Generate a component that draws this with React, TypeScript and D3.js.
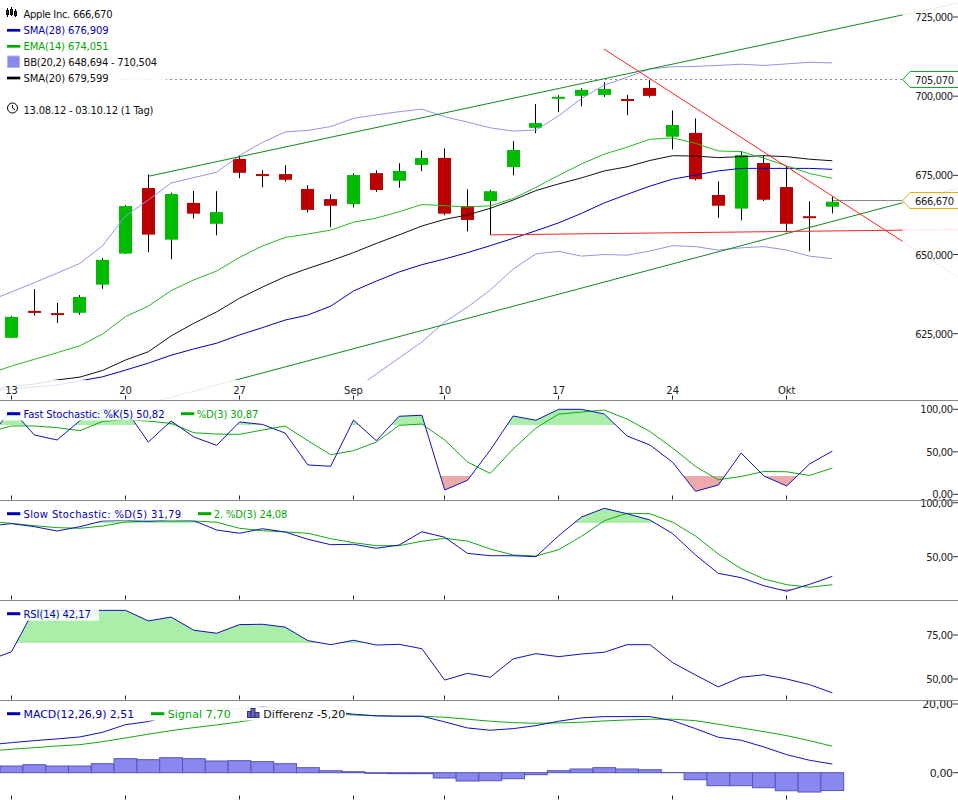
import React from "react";
import * as d3 from "d3";

// ---------- data ----------
const title = "Apple Inc. 666,670";
const xTickIndex = [0, 5, 10, 15, 19, 24, 29, 34];
const xTickLabels = ["13", "20", "27", "Sep", "10", "17", "24", "Okt"];
const priceTicks = [725, 700, 675, 650, 625];

// candles, Aug 13 .. Oct 3
const opens = [623.7, 632.2, 631.5, 631.6, 640.5, 650.3, 671.0, 654.7, 666.3, 659.7, 680.2, 675.4, 675.4, 670.7, 667.5, 665.9, 675.7, 673.3, 678.3, 680.5, 665.3, 666.9, 677.6, 690.0, 699.5, 700.1, 700.4, 699.1, 702.6, 687.2, 688.4, 668.8, 664.5, 678.9, 671.3, 662.1, 665.1];
const highs = [630.6, 639.1, 634.7, 637.2, 648.9, 665.6, 675.3, 669.5, 670.1, 670.0, 681.3, 676.6, 678.2, 671.9, 669.0, 675.6, 676.6, 678.8, 682.9, 683.5, 670.6, 670.4, 685.8, 697.5, 700.3, 702.5, 704.4, 700.4, 705.07, 695.5, 693.0, 673.1, 682.7, 681.4, 677.7, 666.8, 668.3];
const lows = [623.6, 630.7, 628.4, 631.0, 639.2, 650.2, 650.7, 648.5, 661.4, 656.1, 674.1, 671.2, 673.0, 663.3, 658.6, 664.9, 669.8, 671.1, 676.3, 662.4, 657.3, 656.2, 675.0, 688.3, 694.9, 696.8, 699.8, 694.0, 699.6, 683.2, 673.4, 661.6, 660.8, 666.9, 657.0, 651.0, 663.0];
const closes = [630.3, 631.9, 631.2, 636.6, 648.3, 665.3, 656.3, 669.1, 662.9, 663.4, 675.8, 675.0, 673.6, 664.1, 665.4, 675.1, 670.4, 676.4, 680.5, 662.9, 660.9, 670.0, 683.0, 691.5, 699.8, 702.0, 702.3, 698.8, 700.1, 690.9, 673.8, 665.4, 681.4, 667.3, 659.7, 661.6, 666.67];

// overlays: first value is the session before the first candle
const bbUpper = [635.3, 638.2, 641.1, 644.1, 647.2, 652.8, 662.2, 667.2, 672.6, 674.3, 676, 681.3, 685.4, 688.7, 689.2, 690.4, 693, 694.1, 695.1, 695.9, 693.5, 691.8, 690, 689, 689.3, 693.8, 699.3, 703.5, 706, 708.6, 709.3, 709.4, 709.7, 710.1, 709.7, 710.2, 710.7, 710.5];
const bbLowerStart = 14;
const bbLower = [602.5, 607.2, 612.3, 617.3, 622.4, 628.7, 633.4, 638.8, 645.4, 650.2, 651, 649.5, 650, 649.8, 651.1, 652.8, 652.5, 651.4, 652.1, 652.5, 651.4, 649.5, 648.7];
const sma28 = [606.9, 607.5, 608.2, 608.8, 610.1, 611.4, 613.5, 615.7, 618.2, 620.2, 622, 624.6, 626.9, 629.3, 630.9, 633.7, 638.5, 641.6, 644.5, 646.8, 648.6, 650.6, 652.8, 655.1, 657.5, 660, 663, 666.3, 669, 671.6, 673.8, 675.1, 676.4, 677.2, 677.2, 677.2, 677.2, 676.9];
const sma20 = [607.5, 608.2, 609.1, 610.4, 611.3, 613.4, 616.7, 619.3, 624.3, 628.3, 631.9, 636.2, 639.7, 643, 645.6, 648, 650.6, 653.5, 656.2, 659, 661.1, 662.5, 664.6, 667.2, 670.2, 672.3, 674.2, 676.4, 677.7, 679.7, 681.2, 681.1, 680.6, 680.9, 681.2, 680.9, 680.1, 679.6];
const ema14 = [612.3, 614.8, 616.9, 619, 621.2, 624.9, 630.4, 633.7, 638.6, 642, 644.8, 649.1, 652.7, 655.4, 656.5, 657.7, 660.2, 661.5, 663.5, 665.8, 665.4, 665, 665.4, 667.7, 671.2, 675, 678.6, 681.7, 683.9, 686.4, 686.8, 685.1, 682.7, 682.5, 680.4, 678, 675.6, 674.05];

// trend lines as [session index, price]
const trendGreenUp = [[6, 674.7], [41.51, 729.4]];
const trendGreenLow = [[6.51, 604.0], [41.51, 671.0]];
const trendRedDown = [[25.98, 714.9], [41.51, 642.9]];
const trendRedFlat = [[21, 656.2], [41.51, 657.9]];
const dottedPrice = 705.07;
const lastPrice = 666.67;

// fast stochastic
const fastK = [66, 100, 69.8, 63.9, 86.7, 100, 100, 61.5, 86.2, 67.4, 57.6, 85.1, 82.2, 72.1, 34.5, 33, 87.4, 63.1, 91.8, 93, 5.1, 16.5, 52.1, 92.1, 87.1, 100, 100, 94.5, 68.6, 58, 37.6, 3.5, 10.9, 48.6, 21.5, 9.8, 35.6, 50.82];
const fastD = [73.3, 80.4, 80.4, 78.4, 74.9, 85.8, 87.9, 86.1, 83.4, 72.4, 70.9, 70.5, 75.6, 80.3, 63, 46.6, 51.3, 61.5, 81.1, 82.7, 63.9, 38, 24.5, 53.2, 77.9, 94.4, 96.7, 99.1, 88.5, 73.9, 54.4, 32.8, 17.1, 21, 26.8, 26.5, 22.1, 30.87];
// slow stochastic
const slowK = [78.4, 80.6, 77.8, 73.8, 77.8, 83.1, 83.7, 82.8, 84, 83.3, 74.7, 71.7, 75.9, 72.9, 66.1, 61.1, 61.5, 57.8, 60.8, 73.1, 68, 53.1, 50.9, 50.9, 50, 69.4, 86.8, 94.8, 89.8, 84, 71.3, 51.6, 34.6, 30.6, 23.1, 18, 24.4, 31.79];
const slowD = [82.6, 80.9, 78.7, 76.9, 76.3, 78.4, 82.1, 83.1, 82.8, 83.1, 81.9, 76.3, 74.1, 72.9, 71.7, 66.7, 63, 60.2, 60.2, 64.3, 67, 64.5, 57.1, 51.6, 50.6, 56.5, 68.9, 83.3, 90.2, 89.8, 81.9, 69.2, 52.5, 38.9, 29.4, 24.1, 21.7, 24.08];
// RSI
const rsi = [60.6, 65.5, 89.6, 89, 89, 89, 89, 83, 85.2, 77.7, 76, 80.9, 81.1, 79.5, 71.8, 69.5, 72, 69.3, 69.7, 67.2, 49.4, 53.2, 51, 61.4, 64.4, 62.7, 64.2, 65.2, 69.5, 69.5, 59.3, 52.3, 45.5, 51, 52.4, 50, 46.8, 42.17];
// MACD
const macd = [8.08, 8.75, 9.33, 9.83, 10.41, 11.78, 13.99, 14.87, 16.82, 17.99, 18.43, 18.66, 19.07, 18.78, 18.28, 17.78, 17.03, 16.53, 16.44, 16.44, 14.78, 13.03, 12.36, 12.83, 13.7, 14.99, 15.95, 16.33, 16.33, 16.33, 15.16, 12.83, 10.32, 9.45, 7.49, 5.25, 3.62, 2.51];
const signal = [6.33, 6.82, 7.29, 7.78, 8.16, 9.04, 10.12, 11.2, 12.24, 13.12, 13.91, 14.78, 15.86, 16.53, 16.97, 17.11, 16.82, 16.62, 16.44, 16.44, 16.15, 15.57, 14.99, 14.58, 14.4, 14.49, 14.69, 15.07, 15.36, 15.57, 15.57, 15.16, 14.11, 13.03, 11.95, 10.79, 9.33, 7.7];
const hist = [1.95, 2.33, 1.95, 1.95, 2.62, 4.08, 3.79, 4.37, 4.08, 3.41, 3.5, 3.21, 2.62, 1.46, 0.58, 0.29, -0.2, -0.29, -0.29, -1.55, -2.42, -2.33, -1.75, -0.58, 0.58, 1.08, 1.46, 1.08, 0.87, 0.05, -2.04, -3.79, -3.79, -4.37, -5.25, -5.63, -5.2];

// ---------- scales ----------
const W = 958;
const FONT = "'DejaVu Sans', sans-serif";
const x = d3.scaleLinear().domain([0, 36]).range([11.5, 832.3]);
const yMain = d3.scaleLinear().domain([625, 725]).range([333.7, 17]);
const yFast = d3.scaleLinear().domain([0, 100]).range([494.3, 409.3]);
const ySlow = d3.scaleLinear().domain([50, 100]).range([556.7, 502.7]);
const yRsi = d3.scaleLinear().domain([50, 75]).range([679, 635]);
const yMacd = d3.scaleLinear().domain([0, 20]).range([772.7, 704]);

const BLUE = "#0000bb";
const GREEN = "#00aa00";
const UP = "#00bb00";
const DOWN = "#bb0000";
const LAV = "#8888ee";
const GRAY = "#888888";
const FILL_G = "#aaeeaa";
const FILL_R = "#ecaaaa";

function path(values: number[], y: d3.ScaleLinear<number, number>, start = -1) {
  return d3
    .line<number>()
    .x((_, i) => x(i + start))
    .y((v) => y(v))(values) as string;
}
function seg(pts: number[][], y: d3.ScaleLinear<number, number>) {
  return d3
    .line<number[]>()
    .x((p) => x(p[0]))
    .y((p) => y(p[1]))(pts) as string;
}
function band(values: number[], y: d3.ScaleLinear<number, number>, edge: number) {
  return d3
    .area<number>()
    .x((_, i) => x(i - 1))
    .y0(edge)
    .y1((v) => y(v))(values) as string;
}
const snapX = (i: number) => Math.floor(x(i)) + 0.5;

// len forces the measured width of the reference's hinted text
const Txt = ({ len, ...p }: any) => (
  <text
    fontFamily={FONT}
    fontSize={10}
    fill="#111"
    textLength={len}
    lengthAdjust={len ? "spacing" : undefined}
    {...p}
  />
);

function Swatch({ x0, y0, color, h = 2.7 }: { x0: number; y0: number; color: string; h?: number }) {
  return <rect x={x0} y={y0 - h / 2} width={13.3} height={h} fill={color} />;
}

function HighLow({ id, y, hi, lo, vals, top, bottom }: any) {
  const edgeHi = Math.floor(y(hi));
  const edgeLo = lo != null ? Math.floor(y(lo)) : 0;
  return (
    <g>
      <defs>
        <clipPath id={`${id}-hi`}>
          <rect x={0} y={top} width={W} height={edgeHi - top} />
        </clipPath>
        {lo != null && (
          <clipPath id={`${id}-lo`}>
            <rect x={0} y={edgeLo} width={W} height={bottom - edgeLo} />
          </clipPath>
        )}
      </defs>
      <path d={band(vals, y, edgeHi)} fill={FILL_G} clipPath={`url(#${id}-hi)`} />
      {lo != null && <path d={band(vals, y, edgeLo)} fill={FILL_R} clipPath={`url(#${id}-lo)`} />}
    </g>
  );
}

function XMarks({ bottom }: { bottom: number }) {
  return (
    <g>
      {xTickIndex.map((t) => (
        <line key={t} x1={snapX(t)} x2={snapX(t)} y1={bottom - 4.5} y2={bottom - 0.5} stroke="#222" />
      ))}
    </g>
  );
}
function YTick({ y, label, len, dy = 4, size = 10 }: { y: number; label: string; len: number; dy?: number; size?: number }) {
  return (
    <g>
      <line x1={953} x2={958} y1={y} y2={y} stroke="#333" />
      <Txt x={953 - len} y={y + dy} fill="#222" len={len} fontSize={size}>
        {label}
      </Txt>
    </g>
  );
}
function tagY(price: number) {
  return Math.floor(yMain(price)) - 0.5;
}
function PriceTag({ price, color }: { price: number; color: string }) {
  const c = tagY(price);
  const pts: [number, number][] = [
    [960, c - 8],
    [910, c - 8],
    [902.7, c],
    [910, c + 8],
    [960, c + 8],
  ];
  return (
    <g>
      <path d={d3.line()(pts) as string} fill="#fff" stroke={color} />
      <Txt x={915} y={c + 4} fill="#222" len={39}>
        {price.toFixed(3).replace(".", ",")}
      </Txt>
    </g>
  );
}
const Halo = ({ x0, y0, w, h, o = 0.88 }: any) => (
  <rect x={x0} y={y0} width={w} height={h} fill="#fff" opacity={o} />
);

export default function App() {
  return (
    <svg
      width={W}
      height={800}
      viewBox="0 0 958 800"
      style={{ position: "absolute", left: 0, top: 0, background: "#fff" }}
    >
      <defs>
        <clipPath id="mainClip">
          <rect x={0} y={0} width={W} height={400} />
        </clipPath>
      </defs>

      {/* main panel */}
      <g clipPath="url(#mainClip)">
        <line x1={0} x2={902.7} y1={tagY(dottedPrice)} y2={tagY(dottedPrice)} stroke={GRAY} strokeDasharray="2 3" />
        <line x1={x(36)} x2={902.7} y1={tagY(lastPrice)} y2={tagY(lastPrice)} stroke={GRAY} />
        {opens.map((o, i) => {
          const c = closes[i];
          const top = yMain(Math.max(o, c));
          const bottom = yMain(Math.min(o, c));
          const cx = snapX(i);
          return (
            <g key={i}>
              <line x1={cx} x2={cx} y1={yMain(highs[i])} y2={yMain(lows[i])} stroke="#000" strokeWidth={1} />
              <rect x={cx - 6.5} y={top} width={13} height={Math.max(bottom - top, 2)} fill={c >= o ? UP : DOWN} />
            </g>
          );
        })}
        <path d={path(bbUpper, yMain)} fill="none" stroke="#9494ee" />
        <path d={path(bbLower, yMain, bbLowerStart)} fill="none" stroke="#9494ee" />
        <path d={path(sma28, yMain)} fill="none" stroke={BLUE} />
        <path d={path(sma20, yMain)} fill="none" stroke="#111" />
        <path d={path(ema14, yMain)} fill="none" stroke="#22bb22" />
        <path d={seg(trendGreenUp, yMain)} fill="none" stroke="#118822" />
        <path d={seg(trendGreenLow, yMain)} fill="none" stroke="#118822" />
        <path d={seg(trendRedDown, yMain)} fill="none" stroke="#ff2222" />
        <path d={seg(trendRedFlat, yMain)} fill="none" stroke="#ff2222" />
        <rect x={902.7} y={0} width={56} height={400} fill="#fff" opacity={0.88} />
        <rect x={0} y={380} width={W} height={20} fill="#fff" opacity={0.88} />
      </g>
      {xTickIndex.map((t, i) => (
        <Txt key={t} x={x(t)} y={393.5} textAnchor="middle" fill="#222">
          {xTickLabels[i]}
        </Txt>
      ))}
      <XMarks bottom={400} />
      {priceTicks.map((p) => (
        <YTick key={p} y={yMain(p)} len={37.7} label={p.toFixed(3).replace(".", ",")} />
      ))}
      <PriceTag price={dottedPrice} color="#11aa22" />
      <PriceTag price={lastPrice} color="#e6b000" />

      {/* main legend */}
      <Halo x0={0} y0={6} w={166} h={79} />
      <g stroke="#000" fill="#333">
        <line x1={7.5} x2={7.5} y1={8} y2={17} />
        <rect x={6.5} y={10.5} width={2} height={4} />
        <line x1={11.5} x2={11.5} y1={7} y2={16} />
        <rect x={10.5} y={9.5} width={2} height={5} />
        <line x1={15.5} x2={15.5} y1={9} y2={17} />
        <rect x={14.5} y={11.5} width={2} height={4} />
      </g>
      <Txt x={23.5} y={18.3} len={89}>{title}</Txt>
      <Swatch x0={7} y0={30.3} color={BLUE} />
      <Txt x={23.5} y={34.3} fill={BLUE} len={85}>SMA(28) 676,909</Txt>
      <Swatch x0={7} y0={46.3} color={GREEN} />
      <Txt x={23.5} y={50.3} fill={GREEN} len={85}>EMA(14) 674,051</Txt>
      <rect x={7.5} y={56} width={12} height={11.5} fill={LAV} stroke="#b5b5f2" />
      <Txt x={23.5} y={66.3} len={133.7}>BB(20,2) 648,694 - 710,504</Txt>
      <Swatch x0={7} y0={78} color="#000" />
      <Txt x={23.5} y={82.3} len={85}>SMA(20) 679,599</Txt>
      <circle cx={12.5} cy={108} r={5} fill="none" stroke="#000" />
      <path d="M12.5 105 V108 L15 110" fill="none" stroke="#000" />
      <Txt x={23.5} y={114.3} len={130}>13.08.12 - 03.10.12 (1 Tag)</Txt>

      {/* fast stochastic */}
      <HighLow id="fast" y={yFast} hi={81} lo={21} vals={fastK} top={400} bottom={500} />
      <path d={path(fastD, yFast)} fill="none" stroke="#11aa11" />
      <path d={path(fastK, yFast)} fill="none" stroke="#1111bb" />
      <Halo x0={0} y0={407} w={262} h={13.5} />
      <Swatch x0={7} y0={413.7} color={BLUE} h={3} />
      <Txt x={23.5} y={418.3} fill={BLUE} len={141}>Fast Stochastic: %K(5) 50,82</Txt>
      <Swatch x0={181} y0={413.7} color={GREEN} h={3} />
      <Txt x={196.7} y={418.3} fill={GREEN} len={61.7}>%D(3) 30,87</Txt>
      <XMarks bottom={500} />
      <YTick y={yFast(100)} label="100,00" len={32.7} />
      <YTick y={yFast(50)} label="50,00" len={26.7} />
      <YTick y={yFast(0)} label="0,00" len={20.7} dy={3.4} />

      {/* slow stochastic */}
      <HighLow id="slow" y={ySlow} hi={81} lo={20} vals={slowK} top={500} bottom={600} />
      <path d={path(slowD, ySlow)} fill="none" stroke="#11aa11" />
      <path d={path(slowK, ySlow)} fill="none" stroke="#1111bb" />
      <Halo x0={0} y0={507} w={289} h={13.5} />
      <Swatch x0={7} y0={513.7} color={BLUE} h={3} />
      <Txt x={23.5} y={518.3} fill={BLUE} len={157.7}>Slow Stochastic: %D(5) 31,79</Txt>
      <Swatch x0={198} y0={513.7} color={GREEN} h={3} />
      <Txt x={213.7} y={518.3} fill={GREEN} len={73.7}>2. %D(3) 24,08</Txt>
      <XMarks bottom={600} />
      <YTick y={ySlow(100)} label="100,00" len={32.7} />
      <YTick y={ySlow(50)} label="50,00" len={26.7} />

      {/* RSI */}
      <HighLow id="rsi" y={yRsi} hi={70} vals={rsi} top={600} bottom={700} />
      <path d={path(rsi, yRsi)} fill="none" stroke="#1111bb" />
      <Halo x0={0} y0={607} w={99} h={13.7} />
      <Swatch x0={7} y0={613.7} color={BLUE} h={3} />
      <Txt x={23.5} y={618.3} fill={BLUE} len={67.3}>RSI(14) 42,17</Txt>
      <XMarks bottom={700} />
      <YTick y={yRsi(75)} label="75,00" len={26.7} />
      <YTick y={yRsi(50)} label="50,00" len={26.7} />

      {/* MACD */}
      {hist.map((h, i) => (
        <rect
          key={i}
          x={x(i) - 11.4}
          width={22.8}
          y={Math.min(yMacd(h), yMacd(0))}
          height={Math.abs(yMacd(h) - yMacd(0))}
          fill={LAV}
          stroke="#5555bb"
        />
      ))}
      <path d={path(signal, yMacd)} fill="none" stroke="#11aa11" />
      <path d={path(macd, yMacd)} fill="none" stroke="#1111bb" />
      <Halo x0={0} y0={707} w={346} h={13.5} o={0.92} />
      <Swatch x0={7} y0={713.7} color={BLUE} h={3} />
      <Txt x={23.5} y={718.3} fill={BLUE} fontSize={11} len={110.7}>MACD(12,26,9) 2,51</Txt>
      <Swatch x0={151} y0={713.7} color={GREEN} h={3} />
      <Txt x={167.7} y={718.3} fill={GREEN} fontSize={11} len={63}>Signal 7,70</Txt>
      <g fill="#6666bb" stroke="#333377">
        <rect x={247.5} y={711.5} width={3.5} height={6} />
        <rect x={251} y={708.5} width={4} height={9} />
        <rect x={255} y={712.5} width={4} height={5} />
      </g>
      <Txt x={263.3} y={718.3} fontSize={11} len={82}>Differenz -5,20</Txt>
      <XMarks bottom={800} />
      <YTick y={yMacd(20)} label="20,00" len={30.7} size={11} />
      <YTick y={yMacd(0)} label="0,00" len={23.3} size={11} />

      {/* panel separators */}
      {[400, 500, 600, 700].map((s) => (
        <line key={s} x1={0} x2={W} y1={s + 0.5} y2={s + 0.5} stroke={GRAY} />
      ))}
    </svg>
  );
}
